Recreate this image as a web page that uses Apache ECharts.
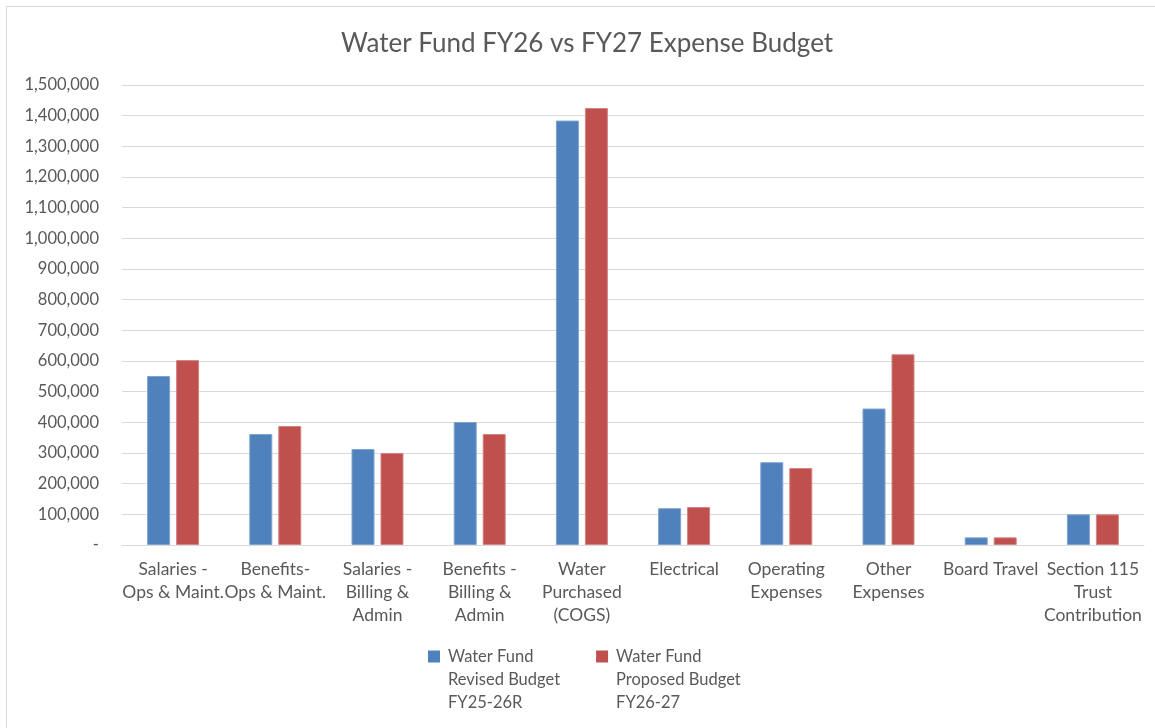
<!DOCTYPE html>
<html>
<head>
<meta charset="utf-8">
<script src="https://cdn.jsdelivr.net/npm/echarts@6/dist/echarts.min.js"></script>
<style>
  html, body { margin: 0; padding: 0; background: #fff; overflow: hidden; }
  #frame { position: absolute; left: 6px; top: 6px; width: 1170px; height: 750px; border: 1px solid #d9d9d9; box-sizing: border-box; }
  #main { position: absolute; left: 0; top: 0; width: 1155px; height: 728px; }
</style>
</head>
<body>
<div id="frame"></div>
<div id="main"></div>
<script>
// categories and budget values
var categories = [
  'Salaries -\nOps & Maint.',
  'Benefits-\nOps & Maint.',
  'Salaries -\nBilling &\nAdmin',
  'Benefits -\nBilling &\nAdmin',
  'Water\nPurchased\n(COGS)',
  'Electrical',
  'Operating\nExpenses',
  'Other\nExpenses',
  'Board Travel',
  'Section 115\nTrust\nContribution'
]
var seriesNames = [
  'Water Fund\nRevised Budget\nFY25-26R',
  'Water Fund\nProposed Budget\nFY26-27'
]
var revisedFY26 = [551000, 362000, 313000, 401000, 1384000, 120000, 270000, 445000, 25000, 100000]
var proposedFY27 = [603000, 388000, 300000, 362000, 1425000, 124000, 251000, 622000, 25000, 100000]

var txt = '#595959'
var font = 'Lato, "Open Sans", sans-serif'

// square at the top of a tall icon box so it lines up with the first text line
var legendIcon = 'path://M0,0h12v12h-12z M15,58h0.01v0.01h-0.01z'

var myChart = echarts.init(document.getElementById('main'))

var option = {
  animation: false,
  backgroundColor: 'transparent',
  textStyle: { fontFamily: font },
  title: {
    text: 'Water Fund FY26 vs FY27 Expense Budget',
    left: 336,
    top: 26,
    textStyle: { color: txt, fontSize: 26, fontWeight: 'normal', fontFamily: font }
  },
  legend: {
    data: seriesNames,
    left: 428,
    top: 645,
    padding: 0,
    itemWidth: 15,
    itemHeight: 58,
    itemGap: 36,
    icon: legendIcon,
    itemStyle: { borderWidth: 0 },
    textStyle: { color: txt, fontSize: 16.5, lineHeight: 23, fontFamily: font }
  },
  grid: { left: 122, right: 11, top: 85, bottom: 183, containLabel: false },
  xAxis: {
    type: 'category',
    data: categories,
    axisLine: { lineStyle: { color: '#d9d9d9' } },
    axisTick: { show: false },
    axisLabel: { interval: 0, color: txt, fontSize: 17.5, lineHeight: 23, margin: 13, fontFamily: font }
  },
  yAxis: {
    type: 'value',
    min: 0,
    max: 1500000,
    interval: 100000,
    axisLine: { show: false },
    axisTick: { show: false },
    splitLine: { lineStyle: { color: '#d9d9d9' } },
    axisLabel: {
      color: txt, fontSize: 16.5, margin: 23, fontFamily: font,
      formatter: function (v) { return v === 0 ? '-' : v.toLocaleString('en-US') }
    }
  },
  series: [
    {
      name: seriesNames[0],
      type: 'bar',
      data: revisedFY26,
      barWidth: 23,
      barGap: '26%',
      itemStyle: { color: '#4F81BD', borderColor: '#7ea3d0', borderWidth: 1 }
    },
    {
      name: seriesNames[1],
      type: 'bar',
      data: proposedFY27,
      barWidth: 23,
      barGap: '26%',
      itemStyle: { color: '#C0504D', borderColor: '#d48482', borderWidth: 1 }
    }
  ]
}

myChart.setOption(option)
</script>
</body>
</html>
